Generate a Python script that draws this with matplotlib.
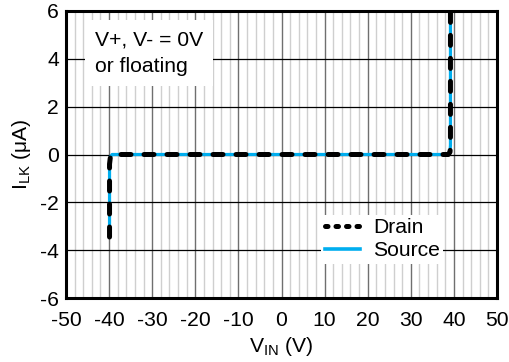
import matplotlib
matplotlib.use("Agg")
import matplotlib.pyplot as plt
from matplotlib.lines import Line2D
from matplotlib.ticker import MultipleLocator

plt.rcParams["font.family"] = ["Liberation Sans", "DejaVu Sans"]
plt.rcParams["mathtext.default"] = "regular"
plt.rcParams["axes.unicode_minus"] = False

# leakage current traces
drain_v = [-39.9, -39.9, -39.7, -39.3, 38.7, 39.1, 39.2, 39.2]
drain_i = [-3.45, -0.4, -0.1, 0.0, 0.0, 0.1, 0.4, 6.5]
source_v = [-39.9, -39.9, -39.7, -39.3, 38.7, 39.1, 39.2, 39.2]
source_i = [-3.45, -0.4, -0.1, 0.0, 0.0, 0.1, 0.4, 6.5]

x_ticks = list(range(-50, 51, 10))
y_ticks = list(range(-6, 7, 2))

FS = 15.2
CYAN = "#00AEEF"

fig = plt.figure(figsize=(5.1, 3.62), dpi=100)
ax = fig.add_axes([66 / 510, 1 - 298 / 362, (497 - 66) / 510, (298 - 11) / 362])

ax.plot(source_v, source_i, color=CYAN, lw=2.3, label="Source",
        solid_capstyle="round", zorder=3)
ax.plot(drain_v, drain_i, color="black", lw=3.6, ls=(0, (2.0, 2.6)),
        dash_capstyle="round", zorder=4)

ax.set_xlim(-50, 50)
ax.set_ylim(-6, 6)
ax.set_xticks(x_ticks)
ax.set_yticks(y_ticks)
ax.xaxis.set_minor_locator(MultipleLocator(2))
ax.grid(which="minor", axis="x", color="#cfcfcf", lw=1.0)
ax.grid(which="major", axis="x", color="#6f6f6f", lw=1.0)
ax.grid(which="major", axis="y", color="black", lw=0.9)
ax.set_axisbelow(True)
ax.tick_params(which="both", length=0, labelsize=FS)
ax.tick_params(axis="x", pad=9)
ax.tick_params(axis="y", pad=5)
for s in ax.spines.values():
    s.set_linewidth(2.2)

ax.set_xlabel(r"V$_{IN}$ (V)", fontsize=FS, labelpad=4)
ax.set_ylabel(r"I$_{LK}$ ($\mu$A)", fontsize=FS, labelpad=5)

ax.text(-43.3, 5.2, "V+, V- = 0V\nor floating", fontsize=FS, va="top", ha="left",
        linespacing=1.55,
        bbox=dict(facecolor="white", edgecolor="none", pad=7), zorder=5)

handles = [Line2D([], [], color="black", lw=3.6, ls=(0, (0.5, 1.6)), dash_capstyle="round"),
           Line2D([], [], color=CYAN, lw=2.6)]
ax.legend(handles, ["Drain", "Source"], loc="lower right", bbox_to_anchor=(0.875, 0.12),
          fontsize=FS, frameon=True, facecolor="white", edgecolor="none",
          framealpha=1, fancybox=False, handlelength=1.7, handletextpad=0.6,
          borderpad=0.15, labelspacing=0.2, borderaxespad=0)

fig.savefig("out.png", dpi=100)
